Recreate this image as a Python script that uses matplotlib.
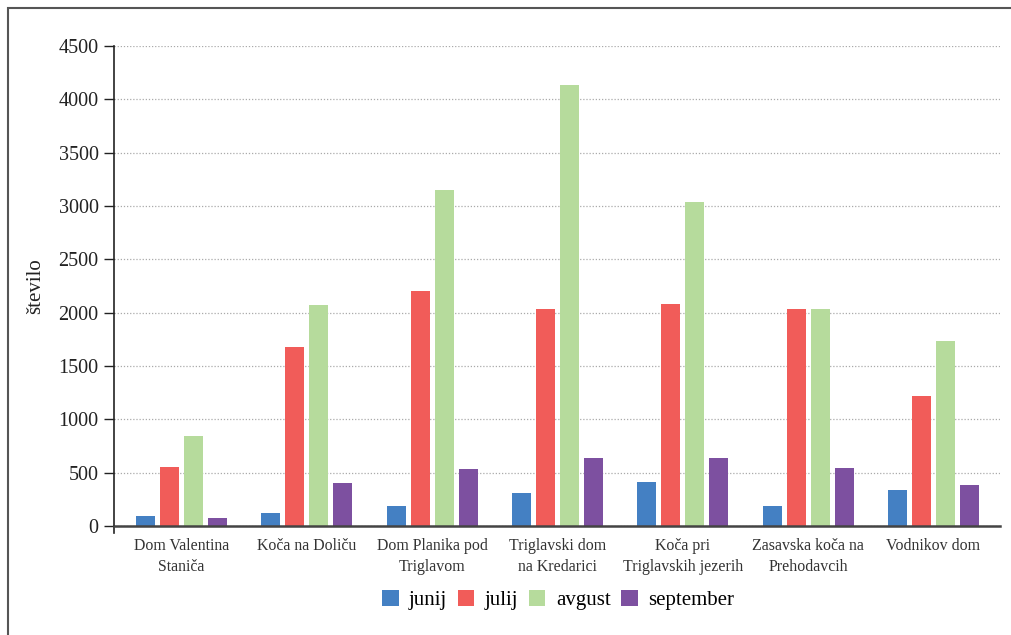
import numpy as np
import matplotlib.pyplot as plt
from matplotlib.patches import Rectangle

# podatki
koce = ["Dom Valentina\nStaniča", "Koča na Doliču", "Dom Planika pod\nTriglavom",
        "Triglavski dom\nna Kredarici", "Koča pri\nTriglavskih jezerih",
        "Zasavska koča na\nPrehodavcih", "Vodnikov dom"]
meseci = ["junij", "julij", "avgust", "september"]
junij = [95, 120, 190, 310, 415, 190, 340]
julij = [555, 1680, 2200, 2035, 2080, 2035, 1220]
avgust = [845, 2070, 3150, 4135, 3040, 2035, 1735]
september = [75, 405, 535, 640, 640, 545, 385]
barve = ["#4480c3", "#f15c59", "#b6db9c", "#7d50a0"]

plt.rcParams['font.family'] = ['Liberation Serif', 'DejaVu Serif']

fig = plt.figure(figsize=(10.11, 6.35), dpi=100)
ax = fig.add_axes([114/1011, 1-526/635, 886/1011, 480/635])

x = np.arange(len(koce))
korak = 0.192
sirina = 0.152
for i, (vrednosti, ime) in enumerate(zip([junij, julij, avgust, september], meseci)):
    ax.bar(x + (i-1.5)*korak, vrednosti, sirina, color=barve[i], label=ime, zorder=3)

ax.set_xlim(-0.539, 6.531)
ax.set_ylim(0, 4500)
ax.set_yticks(range(0, 4501, 500))
ax.tick_params(axis='y', labelsize=14.5, length=7, width=1, colors='#222222', pad=4)
ax.set_xticks(x)
ax.set_xticklabels(koce, fontsize=11.4, color='#333333', linespacing=1.4)
ax.tick_params(axis='x', length=0, pad=9)
ax.grid(axis='y', linestyle=(0, (1, 1.5)), color='#aaaaaa', linewidth=0.9, zorder=0)

for s in ['top', 'right']:
    ax.spines[s].set_visible(False)
ax.spines['left'].set_color('#222222')
ax.spines['left'].set_linewidth(1.2)
ax.spines['bottom'].set_color('#444444')
ax.spines['bottom'].set_linewidth(1.8)
ax.spines['bottom'].set_zorder(4)
# kratka crtica pod izhodiscem
ax.plot([0, 0], [0, -7/480], transform=ax.transAxes, color='#222222', lw=1.2, clip_on=False)

ax.set_ylabel("število", fontsize=15, color='#222222', labelpad=10)

fig.legend(loc='center', bbox_to_anchor=(558/1011, 1-600/635), ncol=4, frameon=False,
           fontsize=15, handlelength=0.8, handleheight=0.8, columnspacing=0.5,
           handletextpad=0.5)

# okvir
fig.patches.append(Rectangle((8/1011, -0.1), 1.5, 1.1 - 8/635, transform=fig.transFigure,
                             fill=False, edgecolor='#555555', linewidth=1.5))

fig.savefig("out.png", dpi=100)
